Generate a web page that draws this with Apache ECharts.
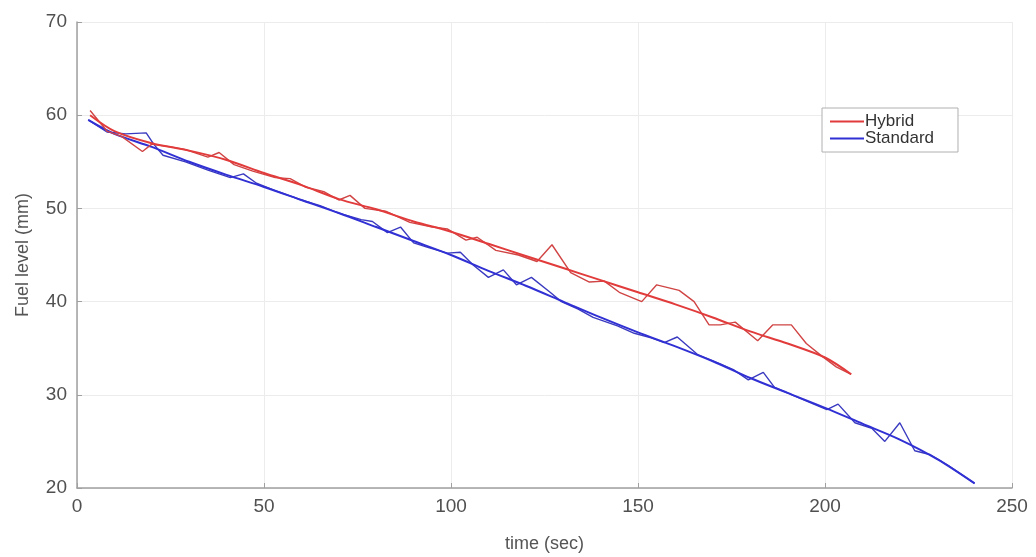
<!DOCTYPE html>
<html>
<head>
<meta charset="utf-8">
<script src="https://cdn.jsdelivr.net/npm/echarts@6/dist/echarts.min.js"></script>
<style>
html,body{margin:0;padding:0;background:#fff;}
#chart{width:1036px;height:557px;}
</style>
</head>
<body>
<div id="chart"></div>
<script>
// Tick labels
const xTicks = [0, 50, 100, 150, 200, 250];
const yTicks = [20, 30, 40, 50, 60, 70];

// Hybrid raw measurements
const hybridT = [3.5, 8, 12, 17.5, 20, 25, 29, 35, 38, 42, 47, 53, 57, 61, 66, 70, 73, 77, 82.5, 89, 95, 99, 104, 107, 112, 118, 123, 127, 132, 137, 141, 145, 151, 155, 161, 165, 169, 172, 176, 182, 186, 191, 195, 199, 203, 207];
const hybridY = [60.5, 58.3, 57.7, 56.1, 56.9, 56.6, 56.3, 55.5, 56.0, 54.7, 54.0, 53.3, 53.2, 52.3, 51.8, 50.9, 51.4, 50.0, 49.7, 48.5, 48.0, 47.8, 46.6, 46.9, 45.5, 45.0, 44.3, 46.1, 43.1, 42.1, 42.2, 41.0, 40.0, 41.8, 41.2, 40.0, 37.5, 37.5, 37.8, 35.8, 37.5, 37.5, 35.5, 34.2, 33.0, 32.2];

// Hybrid smoothed
const hybridFitT = [3.5, 10, 20, 30, 40, 50, 60, 70, 80, 90, 100, 110, 120, 130, 140, 150, 160, 170, 180, 190, 200, 207];
const hybridFitY = [60.0, 58.3, 57.0, 56.2, 55.2, 53.8, 52.5, 51.0, 49.9, 48.6, 47.5, 46.2, 44.9, 43.6, 42.3, 41.0, 39.7, 38.3, 36.8, 35.5, 34.0, 32.2];

// Standard raw measurements
const standardT = [3, 8, 13, 18.5, 20.5, 23, 29, 35, 41, 44.5, 48, 53, 60, 65, 70, 76, 79, 83, 86.5, 90, 94, 99, 102.5, 106, 110, 114, 117.5, 121.5, 126.5, 129.5, 134, 138, 144.5, 149, 153.5, 157, 160.5, 166, 171.5, 175.5, 179.5, 183.5, 186.5, 193.5, 200.5, 203.5, 208, 212.5, 216, 220, 224, 228, 233, 240];
const standardY = [59.5, 58.2, 58.0, 58.1, 56.9, 55.7, 55.0, 54.1, 53.3, 53.7, 52.7, 51.9, 50.9, 50.3, 49.5, 48.8, 48.6, 47.4, 48.0, 46.3, 45.8, 45.2, 45.3, 43.9, 42.6, 43.4, 41.8, 42.6, 41.0, 40.0, 39.2, 38.3, 37.4, 36.6, 36.1, 35.6, 36.2, 34.3, 33.4, 32.7, 31.6, 32.4, 30.8, 29.6, 28.4, 29.0, 27.0, 26.4, 25.0, 27.0, 24.0, 23.6, 22.4, 20.5];

// Standard smoothed
const standardFitT = [3, 10, 20, 30, 40, 50, 60, 70, 80, 90, 100, 110, 120, 130, 140, 150, 160, 170, 180, 190, 200, 210, 220, 230, 240];
const standardFitY = [59.5, 58.0, 56.6, 55.0, 53.6, 52.3, 50.9, 49.5, 48.0, 46.5, 45.0, 43.3, 41.7, 40.0, 38.3, 36.7, 35.2, 33.6, 31.8, 30.2, 28.6, 26.9, 25.2, 23.1, 20.5];

const RED = '#e23b3b';
const RED_RAW = '#d04444';
const BLUE = '#3030d4';
const BLUE_RAW = '#3a3ac0';

function pairs(t, y) { return t.map((v, i) => [v, y[i]]); }

const chart = echarts.init(document.getElementById('chart'), null, {renderer: 'canvas'});
const font = 'Liberation Sans, Arial, sans-serif';

chart.setOption({
  animation: false,
  backgroundColor: '#fff',
  grid: {left: 77, right: 24, top: 22, bottom: 69, containLabel: false, outerBoundsMode: 'none'},
  xAxis: {
    type: 'value', min: xTicks[0], max: xTicks[xTicks.length - 1], interval: 50,
    name: 'time (sec)', nameLocation: 'middle', nameGap: 47,
    nameTextStyle: {fontFamily: font, fontSize: 18, color: '#555'},
    axisLine: {show: true, onZero: false, lineStyle: {color: '#a0a0a0', width: 1.5}},
    axisTick: {show: true, inside: true, length: 5, lineStyle: {color: '#a0a0a0'}},
    axisLabel: {fontFamily: font, fontSize: 19, color: '#505050', margin: 9},
    splitLine: {show: true, lineStyle: {color: '#ececec', width: 1}}
  },
  yAxis: {
    type: 'value', min: yTicks[0], max: yTicks[yTicks.length - 1], interval: 10,
    name: 'Fuel level (mm)', nameLocation: 'middle', nameGap: 45,
    nameTextStyle: {fontFamily: font, fontSize: 18, color: '#555'},
    axisLine: {show: true, lineStyle: {color: '#a0a0a0', width: 1.5}},
    axisTick: {show: true, inside: true, length: 5, lineStyle: {color: '#a0a0a0'}},
    axisLabel: {fontFamily: font, fontSize: 19, color: '#505050', margin: 10},
    splitLine: {show: true, lineStyle: {color: '#ececec', width: 1}}
  },
  legend: {
    data: ['Hybrid', 'Standard'],
    orient: 'vertical', left: 822, top: 108,
    backgroundColor: '#fff', borderColor: '#b0b0b0', borderWidth: 1,
    padding: [5, 24, 5, 8], itemGap: 0,
    itemWidth: 34, itemHeight: 2, icon: 'rect',
    textStyle: {fontFamily: font, fontSize: 17, color: '#333', padding: [0, 0, 0, -4]}
  },
  series: [
    {name: 'Hybrid', type: 'line', data: pairs(hybridT, hybridY), showSymbol: false, symbol: 'none',
     lineStyle: {color: RED_RAW, width: 1.4}, itemStyle: {color: RED}, z: 3},
    {name: 'Hybrid', type: 'line', data: pairs(hybridFitT, hybridFitY), showSymbol: false, symbol: 'none', smooth: 0.3,
     lineStyle: {color: RED, width: 2}, itemStyle: {color: RED}, z: 3},
    {name: 'Standard', type: 'line', data: pairs(standardT, standardY), showSymbol: false, symbol: 'none',
     lineStyle: {color: BLUE_RAW, width: 1.4}, itemStyle: {color: BLUE}, z: 2},
    {name: 'Standard', type: 'line', data: pairs(standardFitT, standardFitY), showSymbol: false, symbol: 'none', smooth: 0.3,
     lineStyle: {color: BLUE, width: 2}, itemStyle: {color: BLUE}, z: 2}
  ]
});
</script>
</body>
</html>
